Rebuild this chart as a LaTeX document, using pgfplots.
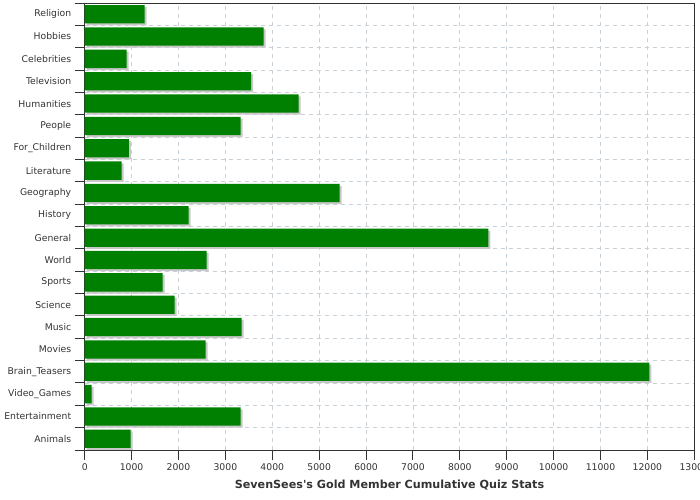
\documentclass[border=0pt]{standalone}
\usepackage{fontspec}
\setmainfont{DejaVu Sans}[Ligatures=TeXOff]
\usepackage{pgfplots}
\usepackage{pgfplotstable}
\pgfplotsset{compat=1.18}

\definecolor{bargreen}{HTML}{008000}
\definecolor{shadowgray}{HTML}{C8C8C8}
\definecolor{gridgray}{HTML}{C8D0D8}
\definecolor{axisdark}{HTML}{333333}

% idx 0 = bottom category (Animals), 19 = top (Religion)
\pgfplotstableread{
idx value
0  980
1  3325
2  150
3  12040
4  2580
5  3345
6  1920
7  1660
8  2600
9  8610
10 2215
11 5435
12 790
13 940
14 3325
15 4560
16 3550
17 895
18 3815
19 1280
}\quizdata

\begin{document}
\begin{tikzpicture}
  \useasboundingbox (-84.7bp,-50bp) rectangle (615.3bp,450bp);
  \begin{axis}[
      scale only axis,
      width=609.6bp, height=447bp,
      xmin=0, xmax=13000,
      ymin=-0.5, ymax=19.5,
      xtick={0,1000,...,13000},
      scaled x ticks=false,
      /pgf/number format/1000 sep={},
      /pgf/number format/assume math mode=true,
      ytick={-0.5,0.5,...,19.5},
      yticklabels={Animals,Entertainment,Video\_Games,Brain\_Teasers,Movies,Music,Science,Sports,World,General,History,Geography,Literature,For\_Children,People,Humanities,Television,Celebrities,Hobbies,Religion,{}},
      yticklabel style={yshift=11.175bp},
      tick align=outside,
      major tick length=10bp,
      tick style={axisdark, line width=0.9bp},
      xtick pos=bottom, ytick pos=left,
      xmajorgrids, ymajorgrids,
      major grid style={gridgray, line width=0.8bp, dash pattern=on 4bp off 4bp},
      axis line style={axisdark, line width=0.9bp},
      tick label style={font=\fontsize{9.3}{11}\selectfont, text=axisdark},
      xlabel={\textbf{SevenSees's Gold Member Cumulative Quiz Stats}},
      xlabel style={font=\fontsize{11.2}{13}\selectfont, text=axisdark, yshift=-3bp},
    ]
    \addplot[xbar, bar shift=0pt, bar width=0.82, fill=shadowgray, draw=none,
      xshift=2bp, yshift=-2bp] table[x=value, y=idx] {\quizdata};
    \addplot[xbar, bar shift=0pt, bar width=0.82, fill=bargreen, draw=none]
      table[x=value, y=idx] {\quizdata};
  \end{axis}
\end{tikzpicture}
\end{document}
